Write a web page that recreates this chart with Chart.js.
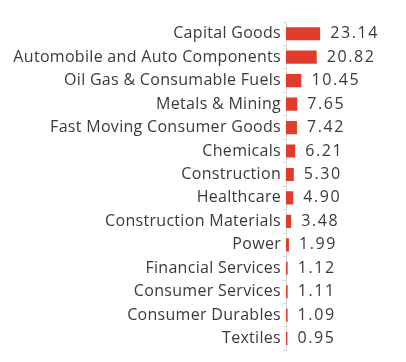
<!DOCTYPE html>
<html>
<head>
<meta charset="utf-8">
<script src="https://cdn.jsdelivr.net/npm/chart.js@4.4.1/dist/chart.umd.min.js"></script>
<style>
  html, body { margin: 0; padding: 0; background: #fff; }
  #wrap { width: 406px; height: 362px; }
</style>
</head>
<body>
<div id="wrap"><canvas id="sectorChart"></canvas></div>
<script>
// sector weights (%)
const sectors = [
  "Capital Goods",
  "Automobile and Auto Components",
  "Oil Gas & Consumable Fuels",
  "Metals & Mining",
  "Fast Moving Consumer Goods",
  "Chemicals",
  "Construction",
  "Healthcare",
  "Construction Materials",
  "Power",
  "Financial Services",
  "Consumer Services",
  "Consumer Durables",
  "Textiles"
];
const weights = [23.14, 20.82, 10.45, 7.65, 7.42, 6.21, 5.30, 4.90, 3.48, 1.99, 1.12, 1.11, 1.09, 0.95];

const FONT = "'Open Sans', sans-serif";
const TEXT_COLOR = "#3a3a3a";

/* wider letter spacing for the category labels */
const labelSpacing = {
  id: "labelSpacing",
  beforeDraw(chart) {
    chart.ctx.letterSpacing = "0.3px";
  }
};

/* value labels to the right of each bar */
const valueLabels = {
  id: "valueLabels",
  afterDatasetsDraw(chart) {
    const { ctx } = chart;
    const meta = chart.getDatasetMeta(0);
    ctx.save();
    ctx.letterSpacing = "1.6px";
    ctx.font = "16px " + FONT;
    ctx.fillStyle = TEXT_COLOR;
    ctx.textAlign = "left";
    ctx.textBaseline = "middle";
    meta.data.forEach((bar, i) => {
      ctx.fillText(weights[i].toFixed(2), bar.x + 10, bar.y);
    });
    ctx.restore();
  }
};

new Chart(document.getElementById("sectorChart"), {
  type: "bar",
  data: {
    labels: sectors,
    datasets: [{
      data: weights,
      backgroundColor: "#e03b2b",
      borderWidth: 0,
      barPercentage: 0.56,
      categoryPercentage: 1
    }]
  },
  options: {
    indexAxis: "y",
    responsive: true,
    maintainAspectRatio: false,
    animation: false,
    layout: { padding: { top: 22, bottom: 8, left: 0, right: 2 } },
    plugins: {
      legend: { display: false },
      tooltip: { enabled: false }
    },
    scales: {
      x: {
        display: false,
        min: 0,
        max: 80
      },
      y: {
        afterFit(scale) { scale.width = 286; },
        border: { color: "#d6d6d6", width: 1 },
        grid: {
          drawOnChartArea: false,
          color: "#d6d6d6",
          tickLength: 3
        },
        ticks: {
          color: TEXT_COLOR,
          padding: 2,
          font: { family: FONT, size: 16 }
        }
      }
    }
  },
  plugins: [labelSpacing, valueLabels]
});
</script>
</body>
</html>
